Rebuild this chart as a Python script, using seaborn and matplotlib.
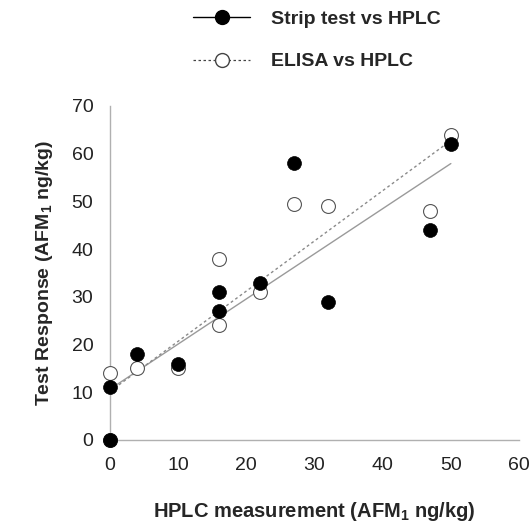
import numpy as np
import pandas as pd
import matplotlib
matplotlib.use("Agg")
import matplotlib.pyplot as plt
from matplotlib.lines import Line2D
import seaborn as sns

# HPLC vs strip test readings (filled circles)
strip_x = [0, 0, 4, 10, 16, 16, 22, 27, 32, 47, 50]
strip_y = [0, 11, 18, 16, 27, 31, 33, 58, 29, 44, 62]

# HPLC vs ELISA readings (open circles), first point sits under the filled one at origin
elisa_x = [0, 0, 4, 10, 16, 16, 22, 27, 32, 47, 50]
elisa_y = [0, 14, 15, 15, 24, 38, 31, 49.5, 49, 48, 64]

x_ticks = [0, 10, 20, 30, 40, 50, 60]
y_ticks = [0, 10, 20, 30, 40, 50, 60, 70]

strip_df = pd.DataFrame({"hplc": strip_x, "resp": strip_y})
elisa_df = pd.DataFrame({"hplc": elisa_x, "resp": elisa_y})

sns.set_style("white")
plt.rcParams["font.family"] = ["Liberation Sans", "DejaVu Sans"]
plt.rcParams["mathtext.fontset"] = "custom"
plt.rcParams["mathtext.rm"] = "Liberation Sans"
plt.rcParams["mathtext.bf"] = "Liberation Sans:bold"

fig = plt.figure(figsize=(5.32, 5.28), dpi=100)
ax = fig.add_axes([0.2068, 0.1667, 0.7688, 0.6326])

# regression lines
sns.regplot(data=strip_df, x="hplc", y="resp", scatter=False, ci=None, truncate=True,
            color="#9a9a9a", line_kws={"lw": 1.0, "ls": "-"}, ax=ax)
sns.regplot(data=elisa_df, x="hplc", y="resp", scatter=False, ci=None, truncate=True,
            color="#8a8a8a", line_kws={"lw": 1.0, "ls": (0, (2, 2))}, ax=ax)

# points
sns.scatterplot(data=elisa_df, x="hplc", y="resp", marker="o", s=100,
                facecolor="white", edgecolor="#555555", linewidth=0.8, ax=ax, zorder=3)
sns.scatterplot(data=strip_df, x="hplc", y="resp", marker="o", s=100,
                color="black", edgecolor="black", linewidth=0.5, ax=ax, zorder=4)

ax.set_xlim(0, 60)
ax.set_ylim(0, 70)
ax.set_xticks(x_ticks)
ax.set_yticks(y_ticks)
ax.tick_params(axis="both", direction="out", length=5, width=0.8, color="#b0b0b0",
               labelsize=14, labelcolor="#222222", pad=7)
for side in ["top", "right"]:
    ax.spines[side].set_visible(False)
for side in ["left", "bottom"]:
    ax.spines[side].set_color("#b0b0b0")
    ax.spines[side].set_linewidth(1.0)
for coll in ax.collections:
    coll.set_clip_on(False)

ax.set_xlabel(r"HPLC measurement (AFM$_\mathbf{1}$ ng/kg)", fontsize=14.5,
              fontweight="bold", labelpad=19)
ax.set_ylabel(r"Test Response (AFM$_\mathbf{1}$ ng/kg)", fontsize=14,
              fontweight="bold", labelpad=12)

handles = [
    Line2D([0], [0], color="black", lw=1.0, marker="o", markersize=10,
           markerfacecolor="black", markeredgecolor="black"),
    Line2D([0], [0], color="#444444", lw=0.9, ls=(0, (2, 2)), marker="o", markersize=10,
           markerfacecolor="white", markeredgecolor="#444444"),
]
fig.legend(handles, ["Strip test vs HPLC", "ELISA vs HPLC"], loc="upper left",
           bbox_to_anchor=(0.349, 0.996), borderaxespad=0.0, frameon=False,
           handlelength=2.9, handletextpad=1.1, labelspacing=1.3,
           prop={"weight": "bold", "size": 14})

fig.savefig("out.png", dpi=100)
